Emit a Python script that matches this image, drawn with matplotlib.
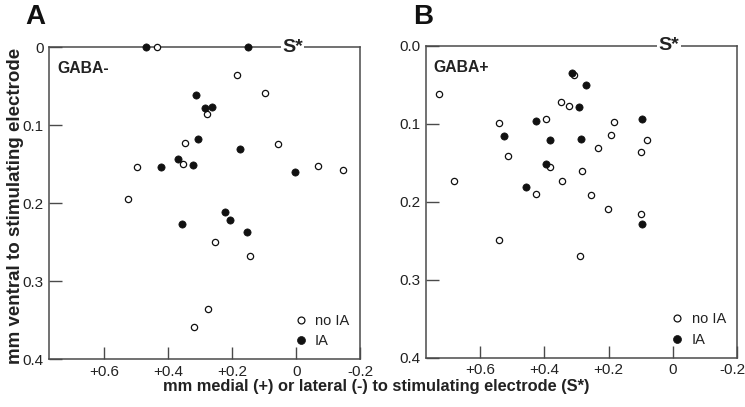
import matplotlib
matplotlib.use("Agg")
import matplotlib.pyplot as plt
import matplotlib.transforms as mtransforms

plt.rcParams['font.family'] = ['Liberation Sans', 'DejaVu Sans']

# Panel A (GABA-)
a_noia_x = [0.435, 0.185, 0.096, 0.278, 0.347, 0.057, 0.354, 0.498, -0.067, -0.146,
            0.524, 0.253, 0.144, 0.276, 0.320]
a_noia_y = [0.0, 0.036, 0.059, 0.086, 0.123, 0.124, 0.150, 0.154, 0.152, 0.157,
            0.195, 0.249, 0.268, 0.336, 0.359]
a_ia_x = [0.469, 0.149, 0.3125, 0.284, 0.263, 0.307, 0.175, 0.369, 0.322, 0.422,
          0.004, 0.223, 0.206, 0.357, 0.154]
a_ia_y = [0.0, 0.0, 0.061, 0.078, 0.077, 0.117, 0.131, 0.143, 0.151, 0.154,
          0.160, 0.211, 0.221, 0.227, 0.237]

# Panel B (GABA+)
b_noia_x = [0.727, 0.683, 0.542, 0.514, 0.394, 0.3825, 0.425, 0.348, 0.324, 0.308,
            0.346, 0.2825, 0.255, 0.234, 0.184, 0.193, 0.201, 0.081, 0.098, 0.098,
            0.542, 0.290]
b_noia_y = [0.0615, 0.174, 0.0995, 0.141, 0.094, 0.155, 0.190, 0.0726, 0.077, 0.037,
            0.174, 0.160, 0.191, 0.131, 0.0974, 0.115, 0.209, 0.121, 0.136, 0.216,
            0.249, 0.269]
b_ia_x = [0.526, 0.425, 0.383, 0.396, 0.458, 0.314, 0.269, 0.293, 0.286, 0.096, 0.096]
b_ia_y = [0.116, 0.0965, 0.121, 0.152, 0.181, 0.0354, 0.051, 0.079, 0.120, 0.0936, 0.229]

xticks = [0.6, 0.4, 0.2, 0.0, -0.2]
xticklabels = ['+0.6', '+0.4', '+0.2', '0', '-0.2']
yticks = [0.0, 0.1, 0.2, 0.3, 0.4]
yticklabels_a = ['0', '0.1', '0.2', '0.3', '0.4']
yticklabels_b = ['0.0', '0.1', '0.2', '0.3', '0.4']

spine_col = '#4a4a4a'
txt_col = '#222222'
fig = plt.figure(figsize=(7.45, 4.07), dpi=100)
axA = fig.add_axes([0.0662, 0.1172, 0.4174, 0.7666])
axB = fig.add_axes([0.5714, 0.1211, 0.4179, 0.7666])

def setup(ax, nx, ny, ix, iy, ytl, title, shift_last):
    ax.set_xlim(0.77, -0.2)
    ax.set_ylim(0.4, 0.0)
    ax.set_xticks(xticks)
    ax.set_xticklabels(xticklabels)
    ax.set_yticks(yticks)
    ax.set_yticklabels(ytl)
    ax.tick_params(direction='in', length=9, width=1, color=spine_col,
                   labelsize=11, labelcolor=txt_col, pad=4)
    for s in ax.spines.values():
        s.set_color(spine_col)
        s.set_linewidth(1.1)
    ax.text(0.012, 0.0, 'S*', ha='center', va='center', fontsize=14,
            fontweight='bold', color=txt_col,
            bbox=dict(facecolor='white', edgecolor='none', pad=1),
            zorder=5, clip_on=False)
    ax.plot(nx, ny, 'o', ms=4.5, mfc='white', mec='#111111', mew=0.9,
            clip_on=False, zorder=6, label='no IA')
    ax.plot(ix, iy, 'o', ms=5.2, mfc='#111111', mec='#111111', mew=0.5,
            clip_on=False, zorder=7, label='IA')
    ax.text(0.025, 0.955, title, transform=ax.transAxes, ha='left', va='top',
            fontsize=11.3, fontweight='bold', color=txt_col)
    ax.legend(loc='lower right', frameon=False, fontsize=10.5, handletextpad=0.5,
              labelspacing=0.45, borderaxespad=0.35, handlelength=1.0,
              markerscale=1.1, labelcolor=txt_col)
    if shift_last:
        lab = ax.get_xticklabels()[-1]
        lab.set_transform(lab.get_transform() +
                          mtransforms.ScaledTranslation(-5 / 100, 0, fig.dpi_scale_trans))

setup(axA, a_noia_x, a_noia_y, a_ia_x, a_ia_y, yticklabels_a, 'GABA-', False)
setup(axB, b_noia_x, b_noia_y, b_ia_x, b_ia_y, yticklabels_b, 'GABA+', True)

fig.text(0.048, 0.958, 'A', fontsize=20, fontweight='bold', ha='center', va='center', color='#111111')
fig.text(0.568, 0.958, 'B', fontsize=20, fontweight='bold', ha='center', va='center', color='#111111')
fig.text(0.021, 0.495, 'mm ventral to stimulating electrode', rotation=90,
         fontsize=13.5, fontweight='bold', ha='center', va='center', color=txt_col)
fig.text(0.505, 0.051, 'mm medial (+) or lateral (-) to stimulating electrode (S*)',
         fontsize=11.8, fontweight='bold', ha='center', va='center', color=txt_col)

fig.savefig('out.png', dpi=100)
